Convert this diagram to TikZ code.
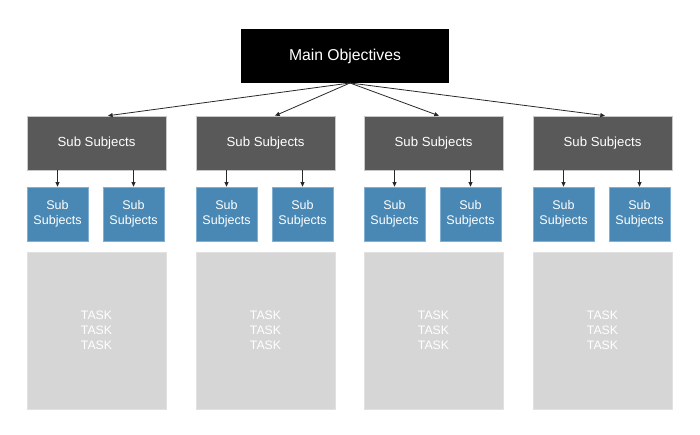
\documentclass[tikz,border=0pt]{standalone}
\usepackage{fontspec}
\setmainfont{Liberation Sans}
\usetikzlibrary{arrows.meta}

\definecolor{objblack}{RGB}{0,0,0}
\definecolor{subgray}{RGB}{89,89,89}
\definecolor{subblue}{RGB}{73,136,180}
\definecolor{taskgray}{RGB}{214,214,214}

\tikzset{every picture/.style={line width=0.75pt}}
\tikzset{
  mainbox/.style={fill=objblack, text=white, minimum width=156pt, minimum height=40.5pt, inner sep=0.75pt, font=\fontsize{11.8}{14}\selectfont},
  subbox/.style={fill=subgray, draw={rgb,255:red,200;green,200;blue,200}, line width=0.4pt, text=white, minimum width=104.25pt, minimum height=40.5pt, inner sep=0.75pt, font=\fontsize{9.9}{12}\selectfont},
  leafbox/.style={fill=subblue, draw={rgb,255:red,130;green,175;blue,210}, line width=0.4pt, text=white, minimum width=45.75pt, minimum height=40.5pt, inner sep=0.75pt, align=center, font=\fontsize{9.4}{11.5}\selectfont},
  taskbox/.style={fill=taskgray, draw={rgb,255:red,225;green,225;blue,225}, line width=0.4pt, text=white, minimum width=104.25pt, minimum height=117.75pt, inner sep=0.75pt, align=center, font=\fontsize{9.2}{11.2}\selectfont},
  link/.style={draw={rgb,255:red,40;green,40;blue,40}, line width=0.6pt, -{Triangle[length=3.5pt,width=3pt]}}
}

\begin{document}
\begin{tikzpicture}[x=0.75pt,y=0.75pt,yscale=-1,xscale=1]
\useasboundingbox (0,0) rectangle (700,435);

% Main Node
\node [mainbox] (main) at (345,56) {Main Objectives};
\coordinate (hub) at (350,83);

% Sub Subjects Nodes
\node [subbox] (sub1) at (96.5,143) {Sub Subjects};
\node [subbox] (sub2) at (265.5,143) {Sub Subjects};
\node [subbox] (sub3) at (433.5,143) {Sub Subjects};
\node [subbox] (sub4) at (602.5,143) {Sub Subjects};

% Leaf Nodes
\node [leafbox] (leaf1a) at (57.5,214) {Sub\\Subjects};
\node [leafbox] (leaf1b) at (133.5,214) {Sub\\Subjects};
\node [leafbox] (leaf2a) at (226.5,214) {Sub\\Subjects};
\node [leafbox] (leaf2b) at (302.5,214) {Sub\\Subjects};
\node [leafbox] (leaf3a) at (394.5,214) {Sub\\Subjects};
\node [leafbox] (leaf3b) at (470.5,214) {Sub\\Subjects};
\node [leafbox] (leaf4a) at (563.5,214) {Sub\\Subjects};
\node [leafbox] (leaf4b) at (639.5,214) {Sub\\Subjects};

% Task Nodes
\node [taskbox] (task1) at (96.5,330.5) {TASK\\TASK\\TASK};
\node [taskbox] (task2) at (265.5,330.5) {TASK\\TASK\\TASK};
\node [taskbox] (task3) at (433.5,330.5) {TASK\\TASK\\TASK};
\node [taskbox] (task4) at (602.5,330.5) {TASK\\TASK\\TASK};

% Arrows from main
\draw [link] (hub) -- ([xshift=8.6pt]sub1.north);
\draw [link] (hub) -- ([xshift=7.1pt]sub2.north);
\draw [link] (hub) -- ([xshift=4.1pt]sub3.north);
\draw [link] (hub) -- ([xshift=1.9pt]sub4.north);

% Arrows to leaves
\draw [link] (leaf1a.north |- sub1.south) -- (leaf1a.north);
\draw [link] (leaf1b.north |- sub1.south) -- (leaf1b.north);
\draw [link] (leaf2a.north |- sub2.south) -- (leaf2a.north);
\draw [link] (leaf2b.north |- sub2.south) -- (leaf2b.north);
\draw [link] (leaf3a.north |- sub3.south) -- (leaf3a.north);
\draw [link] (leaf3b.north |- sub3.south) -- (leaf3b.north);
\draw [link] (leaf4a.north |- sub4.south) -- (leaf4a.north);
\draw [link] (leaf4b.north |- sub4.south) -- (leaf4b.north);
\end{tikzpicture}
\end{document}
